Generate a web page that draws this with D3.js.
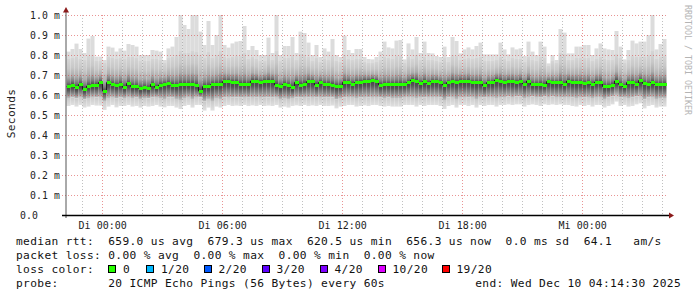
<!DOCTYPE html>
<html><head><meta charset="utf-8">
<script src="https://cdn.jsdelivr.net/npm/d3@7"></script>
<style>
html,body{margin:0;padding:0;background:#fff;}
svg{display:block;}
text{font-family:"DejaVu Sans Mono",monospace;white-space:pre;}
</style>
</head><body>
<svg id="c" width="697" height="297"></svg>
<script>
// ---- data (values in ms) ----
const maxs = [0.817,0.83,0.857,0.83,0.81,0.882,0.895,0.792,0.792,0.775,
 0.842,0.837,0.817,0.833,0.822,0.855,0.85,0.842,0.8,0.8,
 0.8,0.825,0.822,0.817,0.775,0.833,0.842,0.89,1.0,0.95,
 0.93,1.0,1.0,0.917,0.85,0.97,0.85,0.9,1.0,0.85,
 0.837,0.858,0.867,0.87,0.945,0.825,0.845,0.825,0.8,0.8,
 0.887,0.81,1.0,0.8,0.845,0.845,0.89,0.81,0.917,0.91,
 0.862,0.8,0.85,0.79,0.833,0.817,0.88,0.8,0.79,0.897,
 0.825,0.81,0.83,0.83,0.79,0.78,0.778,0.79,0.817,0.867,
 0.838,0.833,0.872,0.875,0.778,0.858,0.828,0.89,0.81,0.867,
 0.81,0.808,0.795,0.79,0.842,0.79,0.89,0.87,0.808,0.828,
 0.838,0.828,0.845,0.862,0.803,0.803,0.803,0.803,0.862,0.828,
 0.803,0.838,0.828,0.833,0.795,0.867,0.817,0.8,0.867,0.842,
 0.758,0.8,0.775,0.93,0.912,0.808,0.808,0.842,0.842,0.85,
 0.85,0.8,0.833,0.858,0.833,0.828,0.825,0.92,0.842,0.778,
 0.825,0.872,0.858,0.867,0.867,0.9,1.0,0.828,0.855,0.88];

const uppers = [0.78,0.785,0.79,0.78,0.775,0.795,0.8,0.77,0.77,0.76,
 0.79,0.785,0.78,0.785,0.78,0.79,0.79,0.785,0.77,0.77,
 0.77,0.78,0.78,0.775,0.76,0.785,0.79,0.8,0.82,0.81,
 0.81,0.82,0.815,0.8,0.785,0.815,0.785,0.8,0.82,0.79,
 0.785,0.79,0.795,0.795,0.81,0.78,0.79,0.78,0.77,0.77,
 0.8,0.775,0.82,0.77,0.785,0.785,0.8,0.775,0.805,0.8,
 0.79,0.77,0.785,0.765,0.78,0.775,0.795,0.77,0.765,0.8,
 0.78,0.775,0.78,0.78,0.765,0.76,0.76,0.765,0.775,0.79,
 0.785,0.78,0.795,0.795,0.76,0.79,0.78,0.8,0.775,0.79,
 0.775,0.775,0.77,0.765,0.785,0.765,0.8,0.795,0.775,0.78,
 0.785,0.78,0.785,0.79,0.77,0.77,0.77,0.775,0.79,0.78,
 0.77,0.785,0.78,0.78,0.765,0.79,0.775,0.77,0.79,0.785,
 0.745,0.77,0.76,0.81,0.805,0.775,0.775,0.785,0.785,0.785,
 0.785,0.77,0.78,0.79,0.78,0.775,0.775,0.805,0.785,0.76,
 0.775,0.795,0.79,0.79,0.79,0.8,0.82,0.78,0.79,0.795];

const medians = [0.642,0.65,0.638,0.653,0.628,0.645,0.65,0.65,0.663,0.62,
 0.662,0.653,0.648,0.655,0.638,0.658,0.642,0.642,0.633,0.638,
 0.633,0.653,0.638,0.65,0.655,0.658,0.65,0.647,0.653,0.653,
 0.653,0.653,0.65,0.62,0.642,0.642,0.653,0.653,0.655,0.667,
 0.667,0.663,0.663,0.655,0.655,0.655,0.67,0.67,0.663,0.67,
 0.67,0.67,0.65,0.642,0.653,0.647,0.638,0.663,0.65,0.655,
 0.667,0.667,0.65,0.663,0.655,0.655,0.65,0.645,0.645,0.663,
 0.663,0.655,0.663,0.663,0.67,0.67,0.675,0.67,0.65,0.653,
 0.653,0.653,0.653,0.655,0.655,0.662,0.675,0.67,0.658,0.667,
 0.658,0.667,0.667,0.662,0.65,0.662,0.667,0.662,0.67,0.667,
 0.67,0.662,0.662,0.662,0.647,0.662,0.662,0.675,0.67,0.662,
 0.67,0.667,0.662,0.67,0.655,0.67,0.653,0.653,0.653,0.65,
 0.667,0.662,0.662,0.662,0.653,0.67,0.665,0.662,0.662,0.658,
 0.662,0.653,0.665,0.665,0.642,0.642,0.65,0.67,0.653,0.642,
 0.662,0.662,0.655,0.672,0.658,0.653,0.662,0.653,0.653,0.653];

const lowers = [0.585,0.588,0.583,0.59,0.578,0.585,0.59,0.588,0.59,0.57,
 0.585,0.59,0.582,0.587,0.585,0.59,0.585,0.587,0.58,0.585,
 0.583,0.587,0.59,0.585,0.58,0.587,0.587,0.58,0.575,0.585,
 0.59,0.58,0.59,0.588,0.568,0.58,0.57,0.585,0.58,0.587,
 0.59,0.587,0.588,0.587,0.59,0.587,0.59,0.587,0.59,0.587,
 0.588,0.587,0.59,0.58,0.585,0.58,0.585,0.588,0.587,0.59,
 0.587,0.59,0.587,0.59,0.587,0.587,0.588,0.577,0.585,0.587,
 0.59,0.59,0.585,0.587,0.59,0.587,0.59,0.59,0.587,0.585,
 0.587,0.585,0.585,0.585,0.59,0.59,0.59,0.585,0.59,0.587,
 0.59,0.59,0.59,0.587,0.575,0.587,0.59,0.58,0.59,0.59,
 0.587,0.59,0.58,0.59,0.587,0.59,0.59,0.585,0.59,0.59,
 0.592,0.59,0.592,0.592,0.585,0.59,0.592,0.59,0.587,0.592,
 0.59,0.592,0.59,0.59,0.59,0.59,0.587,0.585,0.59,0.587,
 0.59,0.585,0.59,0.59,0.58,0.587,0.592,0.6,0.587,0.59,
 0.585,0.587,0.592,0.595,0.578,0.587,0.59,0.58,0.585,0.585];

const mins = [0.545,0.55,0.542,0.55,0.537,0.542,0.55,0.547,0.547,0.525,
 0.542,0.55,0.538,0.545,0.545,0.55,0.542,0.545,0.537,0.545,
 0.542,0.545,0.55,0.542,0.538,0.545,0.545,0.537,0.53,0.545,
 0.55,0.537,0.55,0.55,0.522,0.537,0.522,0.542,0.537,0.545,
 0.55,0.545,0.547,0.545,0.55,0.545,0.548,0.545,0.55,0.545,
 0.547,0.545,0.55,0.537,0.542,0.537,0.545,0.548,0.545,0.55,
 0.545,0.548,0.545,0.55,0.545,0.545,0.547,0.533,0.542,0.545,
 0.55,0.55,0.542,0.545,0.548,0.545,0.55,0.55,0.545,0.542,
 0.545,0.542,0.542,0.542,0.55,0.55,0.55,0.542,0.55,0.545,
 0.55,0.55,0.55,0.545,0.53,0.545,0.55,0.537,0.55,0.55,
 0.545,0.55,0.537,0.55,0.545,0.55,0.55,0.542,0.55,0.55,
 0.553,0.55,0.553,0.553,0.542,0.55,0.553,0.55,0.545,0.553,
 0.55,0.553,0.55,0.553,0.55,0.55,0.545,0.542,0.55,0.545,
 0.55,0.542,0.55,0.55,0.537,0.545,0.553,0.567,0.545,0.55,
 0.542,0.545,0.553,0.558,0.533,0.545,0.55,0.537,0.542,0.542];

const yTickValues = [0,0.1,0.2,0.3,0.4,0.5,0.6,0.7,0.8,0.9,1.0];
const yTickLabels = ["0.0","0.1 m","0.2 m","0.3 m","0.4 m","0.5 m","0.6 m","0.7 m","0.8 m","0.9 m","1.0 m"];
const xTickTimes = ["2025-12-09T00:00:00Z","2025-12-09T06:00:00Z","2025-12-09T12:00:00Z","2025-12-09T18:00:00Z","2025-12-10T00:00:00Z"];
const xTickLabels = ["Di 00:00","Di 06:00","Di 12:00","Di 18:00","Mi 00:00"];
const endTime = "2025-12-10T04:14:30Z";
const spanHours = 30;
const stepMinutes = 12;

const legendLines = [
  "median rtt:  659.0 us avg  679.3 us max  620.5 us min  656.3 us now  0.0 ms sd  64.1   am/s",
  "packet loss: 0.00 % avg  0.00 % max  0.00 % min  0.00 % now",
  "loss color:",
  "probe:       20 ICMP Echo Pings (56 Bytes) every 60s"
];
const endLabel = "end: Wed Dec 10 04:14:30 2025";
const lossLabels = ["0","1/20","2/20","3/20","4/20","10/20","19/20"];
const lossColors = ["#26ff00","#00b8ff","#0059ff","#5e00ff","#7e00ff","#dd00ff","#ff0000"];
const watermark = "RRDTOOL / TOBI OETIKER";
const yTitle = "Seconds";

// ---- layout ----
const L = 66.5, R = 666.5, T = 15, B = 215;
const lossBoxX = [108, 146, 203.5, 261.5, 319.5, 377.5, 441.5];
const legendBase = [245.3, 259.3, 273, 286.5];

const svg = d3.select("#c");
const end = new Date(endTime);
const start = new Date(end.getTime() - spanHours*3600e3);
const x = d3.scaleUtc().domain([start, end]).range([L, R]);
const y = d3.scaleLinear().domain([0, 1.0]).range([B, T]);
const step = stepMinutes*60e3;
const colT = i => new Date(start.getTime() + i*step);

const defs = svg.append("defs");
function grad(id, stops){
  const g = defs.append("linearGradient").attr("id", id).attr("x1",0).attr("y1",0).attr("x2",0).attr("y2",1);
  stops.forEach(s => g.append("stop").attr("offset", s[0]).attr("stop-color", s[1]));
}
grad("gUp", [[0,"#d5d5d5"],[0.35,"#c8c8c8"],[0.65,"#adadad"],[0.85,"#7c7c7c"],[1,"#444"]]);
grad("gDn", [[0,"#444"],[0.3,"#545454"],[0.65,"#858585"],[1,"#bdbdbd"]]);
grad("gLo", [[0,"#c8c8c8"],[0.45,"#d4d4d4"],[1,"#e0e0e0"]]);

const smoke = svg.append("g");
medians.forEach((m, i) => {
  const x0 = x(colT(i)), x1 = x(colT(i+1)), w = x1 - x0;
  smoke.append("rect").attr("x", x0).attr("width", w).attr("y", y(maxs[i])).attr("height", y(uppers[i]) - y(maxs[i])).attr("fill", "#dcdcdc");
  smoke.append("rect").attr("x", x0).attr("width", w).attr("y", y(uppers[i])).attr("height", y(m) - y(uppers[i])).attr("fill", "url(#gUp)");
  smoke.append("rect").attr("x", x0).attr("width", w).attr("y", y(m)).attr("height", y(lowers[i]) - y(m)).attr("fill", "url(#gDn)");
  smoke.append("rect").attr("x", x0).attr("width", w).attr("y", y(lowers[i])).attr("height", y(mins[i]) - y(lowers[i])).attr("fill", "url(#gLo)");
});

// grid
const grid = svg.append("g").attr("shape-rendering", "crispEdges");
const hours = d3.utcHour.every(1).range(d3.utcHour.ceil(start), end);
hours.forEach(h => {
  const major = h.getUTCHours() % 6 === 0;
  grid.append("line").attr("x1", Math.round(x(h))+0.5).attr("x2", Math.round(x(h))+0.5)
    .attr("y1", T).attr("y2", B)
    .attr("stroke", major ? "rgba(215,60,60,0.55)" : "rgba(140,140,140,0.55)")
    .attr("stroke-dasharray", "1,2");
});
yTickValues.forEach(v => {
  if (v === 0) return;
  grid.append("line").attr("x1", 62).attr("x2", 668).attr("y1", Math.round(y(v))+0.5).attr("y2", Math.round(y(v))+0.5)
    .attr("stroke", "rgba(215,60,60,0.55)").attr("stroke-dasharray", "1,2");
});

// median line + loss-colored band
const pts = medians.map((m, i) => [x(colT(i)), y(m)]);
pts.push([x(colT(medians.length)), y(medians[medians.length-1])]);
svg.append("path").attr("d", d3.line().curve(d3.curveStepAfter)(pts))
  .attr("fill", "none").attr("stroke", "#202020").attr("stroke-width", 1);
const band = svg.append("g").attr("shape-rendering", "crispEdges");
medians.forEach((m, i) => {
  band.append("rect").attr("x", x(colT(i))).attr("width", x(colT(i+1)) - x(colT(i)))
    .attr("y", y(m) - 1.5).attr("height", 3).attr("fill", lossColors[0]);
});

// axes
const ax = svg.append("g");
ax.append("line").attr("x1", 66).attr("x2", 66).attr("y1", 10).attr("y2", 218).attr("stroke", "#555").attr("stroke-width", 1);
ax.append("line").attr("x1", 62).attr("x2", 669).attr("y1", 215.5).attr("y2", 215.5).attr("stroke", "#000").attr("stroke-width", 1.3);
ax.append("path").attr("d", "M63,12.5 L69,12.5 L66,7 Z").attr("fill", "#8b1a1a");
ax.append("path").attr("d", "M669,212.5 L669,218.5 L674,215.5 Z").attr("fill", "#8b1a1a");

// y labels
const yl = svg.append("g").attr("font-size", "9.8px").attr("fill", "#222").attr("letter-spacing", "0.12px");
yTickValues.forEach((v, i) => {
  const lab = yTickLabels[i];
  yl.append("text").attr("x", lab.endsWith("m") ? 60 : 38).attr("y", y(v) + 3.5)
    .attr("text-anchor", "end").text(lab);
});
// x labels
const xl = svg.append("g").attr("font-size", "10px").attr("fill", "#222");
xTickTimes.forEach((t, i) => {
  xl.append("text").attr("x", x(new Date(t)) + 1).attr("y", 228.5).attr("text-anchor", "middle").text(xTickLabels[i]);
});

// y title
svg.append("text").attr("transform", "translate(14.5,113.5) rotate(-90)").attr("text-anchor", "middle")
  .attr("font-size", "11.2px").attr("letter-spacing", "0.35px").attr("fill", "#222").text(yTitle);

// watermark
svg.append("text").attr("transform", "translate(685,5) rotate(90)").attr("font-size", "8.3px")
  .attr("fill", "#b4b4b4").text(watermark);

// legend
const lg = svg.append("g").attr("font-size", "11.2px").attr("letter-spacing", "0.36px").attr("fill", "#111");
legendLines.forEach((s, i) => {
  lg.append("text").attr("x", 16).attr("y", legendBase[i]).text(s);
});
lg.append("text").attr("x", 681).attr("y", legendBase[3]).attr("text-anchor", "end").text(endLabel);
lossLabels.forEach((lab, i) => {
  lg.append("rect").attr("x", lossBoxX[i] + 0.5).attr("y", 265.5).attr("width", 7).attr("height", 7)
    .attr("fill", lossColors[i]).attr("stroke", "#000").attr("stroke-width", 1).attr("shape-rendering", "crispEdges");
  lg.append("text").attr("x", lossBoxX[i] + 15).attr("y", legendBase[2]).text(lab);
});
</script>
</body></html>
